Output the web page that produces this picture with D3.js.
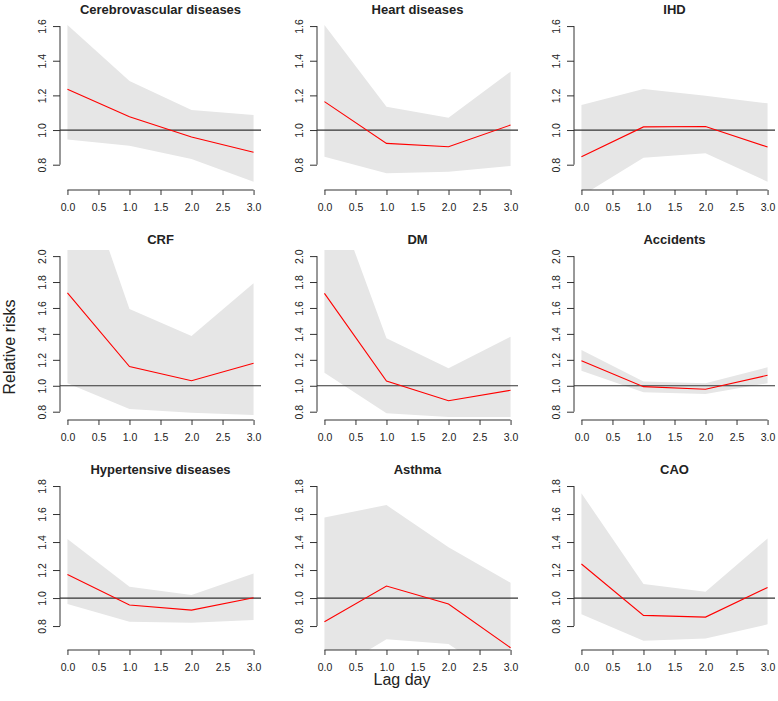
<!DOCTYPE html>
<html>
<head>
<meta charset="utf-8">
<script src="https://cdn.jsdelivr.net/npm/d3@7"></script>
<style>
    body { margin: 0; background: #fff; }
    svg text { font-family: "Liberation Sans", Arial, sans-serif; fill: #222; }
</style>
</head>
<body>
<div id="chart"></div>
<script>
// lag days on the x axis
const lags = [0, 1, 2, 3];
const xTicks = [0, 0.5, 1, 1.5, 2, 2.5, 3];

const causes = [
    'Cerebrovascular diseases', 'Heart diseases', 'IHD',
    'CRF', 'DM', 'Accidents',
    'Hypertensive diseases', 'Asthma', 'CAO'
];

// relative risk estimate per lag, one row per cause
const rrEstimate = [
    [1.235, 1.077, 0.960, 0.872],
    [1.164, 0.923, 0.904, 1.029],
    [0.846, 1.018, 1.020, 0.902],
    [1.717, 1.148, 1.039, 1.173],
    [1.713, 1.037, 0.885, 0.965],
    [1.193, 0.993, 0.973, 1.081],
    [1.169, 0.950, 0.914, 1.002],
    [0.831, 1.086, 0.957, 0.645],
    [1.243, 0.876, 0.864, 1.076]
];

// lower 95% bound
const rrLower = [
    [0.946, 0.910, 0.833, 0.702],
    [0.846, 0.750, 0.760, 0.793],
    [0.620, 0.840, 0.866, 0.702],
    [1.019, 0.821, 0.792, 0.775],
    [1.100, 0.788, 0.760, 0.760],
    [1.116, 0.950, 0.936, 1.020],
    [0.957, 0.831, 0.824, 0.843],
    [0.440, 0.705, 0.671, 0.380],
    [0.884, 0.695, 0.712, 0.812]
];

// upper 95% bound
const rrUpper = [
    [1.606, 1.283, 1.116, 1.087],
    [1.606, 1.135, 1.071, 1.337],
    [1.144, 1.237, 1.198, 1.154],
    [2.970, 1.592, 1.384, 1.790],
    [2.670, 1.366, 1.135, 1.378],
    [1.276, 1.032, 1.019, 1.142],
    [1.421, 1.081, 1.021, 1.176],
    [1.576, 1.664, 1.362, 1.109],
    [1.748, 1.100, 1.045, 1.426]
];

// y axis ticks and limits for each row of panels
const rowTicks = [
    [0.8, 1.0, 1.2, 1.4, 1.6],
    [0.8, 1.0, 1.2, 1.4, 1.6, 1.8, 2.0],
    [0.8, 1.0, 1.2, 1.4, 1.6, 1.8]
];
const rowLimits = [
    [0.654, 1.635],
    [0.736, 2.047],
    [0.629, 1.843]
];

const width = 778;
const height = 701;
const colLeft = [60, 317, 574];
const rowTop = [0, 230, 460];
const plotTop = 20;
const plotBottom = 190;
const plotWidth = 201;

const svg = d3.select('#chart')
  .append('svg')
    .attr('width', width)
    .attr('height', height);

const fmt = d3.format('.1f');

causes.forEach((cause, i) => {
    const row = Math.floor(i / 3);
    const col = i % 3;

    const x = d3.scaleLinear()
        .domain([-0.12, 3.12])
        .range([0, plotWidth]);
    const y = d3.scaleLinear()
        .domain(rowLimits[row])
        .range([plotBottom, plotTop]);

    const g = svg.append('g')
        .attr('transform', `translate(${colLeft[col]},${rowTop[row]})`);

    g.append('clipPath')
        .attr('id', `clip-${i}`)
      .append('rect')
        .attr('x', 0)
        .attr('y', plotTop)
        .attr('width', plotWidth)
        .attr('height', plotBottom - plotTop);

    const plot = g.append('g')
        .attr('clip-path', `url(#clip-${i})`);

    const points = lags.map((lag, j) => ({
        lag,
        est: rrEstimate[i][j],
        lo: rrLower[i][j],
        hi: rrUpper[i][j]
    }));

    // confidence band
    plot.append('path')
        .datum(points)
        .attr('fill', '#e6e6e6')
        .attr('d', d3.area()
            .x(d => x(d.lag))
            .y0(d => y(d.lo))
            .y1(d => y(d.hi)));

    // reference line at RR = 1
    plot.append('line')
        .attr('x1', 0)
        .attr('x2', plotWidth)
        .attr('y1', y(1))
        .attr('y2', y(1))
        .attr('stroke', '#333')
        .attr('stroke-width', 1.2);

    plot.append('path')
        .datum(points)
        .attr('fill', 'none')
        .attr('stroke', '#f00')
        .attr('stroke-width', 1.1)
        .attr('d', d3.line()
            .x(d => x(d.lag))
            .y(d => y(d.est)));

    // x axis
    const xAxis = g.append('g')
        .attr('transform', `translate(0,${plotBottom})`)
        .call(d3.axisBottom(x)
            .tickValues(xTicks)
            .tickFormat(fmt)
            .tickSize(5));
    xAxis.select('.domain').remove();
    xAxis.append('line')
        .attr('x1', x(xTicks[0]))
        .attr('x2', x(xTicks[xTicks.length - 1]))
        .attr('stroke', '#333');
    xAxis.selectAll('.tick line').attr('stroke', '#333');
    xAxis.selectAll('.tick text')
        .attr('y', 20.5)
        .attr('dy', null)
        .style('font-size', '10.5px');

    // y axis with rotated labels
    const ticks = rowTicks[row];
    const yAxis = g.append('g')
        .call(d3.axisLeft(y)
            .tickValues(ticks)
            .tickFormat(fmt)
            .tickSize(7));
    yAxis.select('.domain').remove();
    yAxis.append('line')
        .attr('y1', y(ticks[0]))
        .attr('y2', y(ticks[ticks.length - 1]))
        .attr('stroke', '#333');
    yAxis.selectAll('.tick line').attr('stroke', '#333');
    yAxis.selectAll('.tick text')
        .attr('x', null)
        .attr('dy', null)
        .attr('text-anchor', 'middle')
        .attr('transform', 'translate(-14,0) rotate(-90)')
        .style('font-size', '10.5px');

    g.append('text')
        .attr('x', plotWidth / 2)
        .attr('y', 13.5)
        .attr('text-anchor', 'middle')
        .style('font-weight', 'bold')
        .style('font-size', '13px')
        .text(cause);
});

svg.append('text')
    .attr('transform', 'translate(15,347) rotate(-90)')
    .attr('text-anchor', 'middle')
    .style('font-size', '16px')
    .text('Relative risks');

svg.append('text')
    .attr('x', 402)
    .attr('y', 685)
    .attr('text-anchor', 'middle')
    .style('font-size', '16px')
    .text('Lag day');
</script>
</body>
</html>
